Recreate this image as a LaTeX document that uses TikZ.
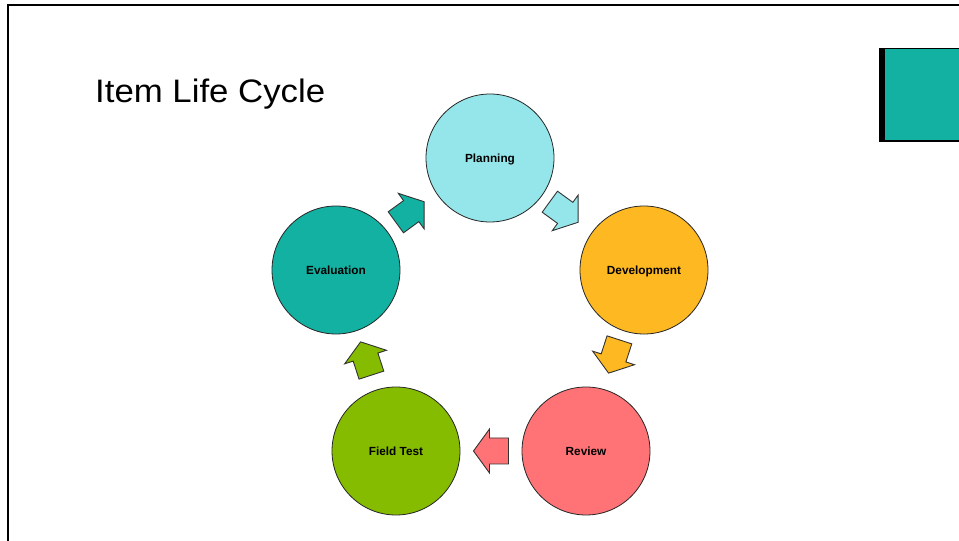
\documentclass[tikz,border=0pt]{standalone}
\usepackage{fontspec}
\setmainfont{Liberation Sans}
\usetikzlibrary{calc}
\definecolor{cplan}{HTML}{95E6EA}
\definecolor{cdev}{HTML}{FDB822}
\definecolor{crev}{HTML}{FF7377}
\definecolor{cfield}{HTML}{86BC00}
\definecolor{ceval}{HTML}{13B1A2}
\tikzset{
  stage/.style={circle, draw=black!85, line width=0.8pt, minimum size=128pt, inner sep=0pt, text height=8.5pt, text depth=0pt, font=\fontsize{11.8}{14}\selectfont\bfseries},
  blockarr/.pic={\draw[pic actions] (17.5,0) -- (1.5,22) -- (1.5,13) -- (-17.5,13) -- (-17.5,-13) -- (1.5,-13) -- (1.5,-22) -- cycle;},
  arr/.style={draw=black!80, line width=0.9pt, line join=miter}
}
\begin{document}
\begin{tikzpicture}[x=1pt,y=1pt]
\useasboundingbox (0,0) rectangle (959,541);
% frame
\draw[line width=2pt] (8,0) -- (8,536) -- (959,536);
% top-right box
\fill[black] (879,399) rectangle (959,493);
\fill[ceval] (884.5,401) rectangle (959,491.5);
% title
\node[anchor=base west, inner sep=0pt, xscale=1.07, font=\fontsize{32.5}{38}\selectfont] (title) at (95,438) {Item Life Cycle};
% stages
\node[stage, fill=cplan] (P) at (490,383) {Planning};
\node[stage, fill=cdev] (D) at (644,271) {Development};
\node[stage, fill=crev] (R) at (586,90) {Review};
\node[stage, fill=cfield] (F) at (396,90) {Field Test};
\node[stage, fill=ceval] (E) at (336,271) {Evaluation};
% arrows
\pic[arr, fill=cplan, rotate=-36] at ($(P)!0.5!(D)+(-3,2)$) {blockarr};
\pic[arr, fill=cdev, rotate=-108] at ($(D)!0.5!(R)+(-1,4)$) {blockarr};
\pic[arr, fill=crev, rotate=180] at ($(R)!0.5!(F)$) {blockarr};
\pic[arr, fill=cfield, rotate=108] at ($(F)!0.5!(E)+(0,2)$) {blockarr};
\pic[arr, fill=ceval, rotate=36] at ($(E)!0.5!(P)+(-3,2)$) {blockarr};
\end{tikzpicture}
\end{document}
